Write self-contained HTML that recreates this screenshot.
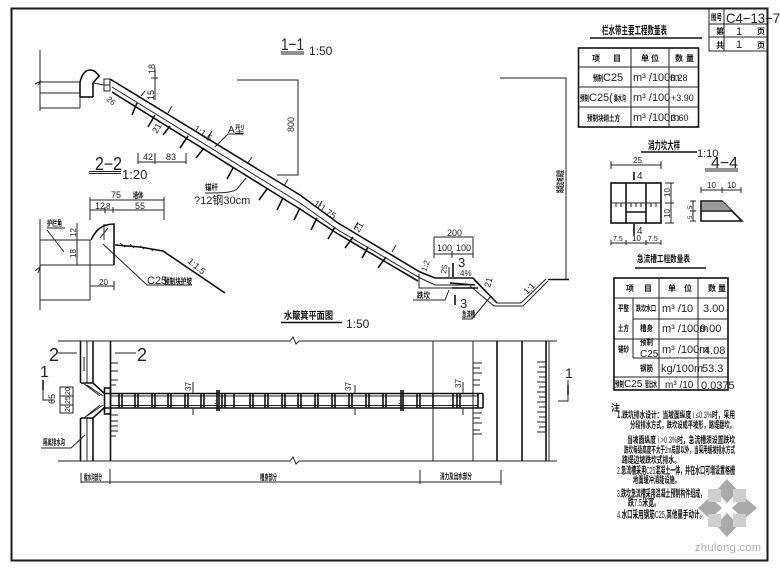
<!DOCTYPE html>
<html><head><meta charset="utf-8"><style>
html,body{margin:0;padding:0;background:#fff}
svg{display:block;filter:blur(.35px)}
text{font-family:"Liberation Sans","Noto Sans CJK SC",sans-serif;fill:#222}
.c{font-family:"Noto Sans CJK SC","Liberation Sans",sans-serif;font-weight:700;fill:#111}
.l{fill:none;stroke:#222;stroke-width:1}
.t{fill:none;stroke:#111;stroke-width:1.6}
</style></head><body>
<svg width="780" height="571" viewBox="0 0 780 571" font-size="8" xmlns="http://www.w3.org/2000/svg">
<rect width="780" height="571" fill="#fff"/>
<rect x="11.5" y="8.5" width="756" height="552" fill="none" stroke="#1a1a1a" stroke-width="2"/>

<!-- 1-1 title -->
<text x="281" y="50" font-size="17" textLength="23" lengthAdjust="spacingAndGlyphs">1−1</text>
<path class="l" d="M281 52H304M281 54H304"/>
<text x="309" y="55" font-size="12">1:50</text>

<!-- 1-1 profile -->
<path class="l" d="M40 50V111M40 82H80M40 93H80M40 108H80M35 84L41 81L38 85"/>
<path class="t" stroke-width="1.3" d="M80 97V82C82 74 85 70 90 70C94 70 96 72 99 76L93 83V97"/>
<path class="l" d="M80 108V97M93 83L104 85"/>
<rect class="l" x="104" y="79" width="6" height="12"/><path class="l" d="M104 85H110"/>
<path class="t" d="M80 97H93"/>
<path class="t" stroke-width="1.5" d="M110 79L300 195L338 223L420 272L435 278H473L497 303"/>
<path class="l" d="M112 87L300 203L338 230L420 278L435 285H473"/>
<path class="t" stroke-width="1.2" d="M112 92L300 209L338 234L418 281"/>
<path class="l" d="M474 280L497 303H521L546 279M470 286L494 306H523L548 281M419 274V288H470"/>
<path class="t" d="M548 279.5H569M450 283L475 285M452 288H478"/>
<path class="l" d="M141 96L145 91M168 113L172 106M208 138L212 131M248 163L252 157M284 186L288 179M318 208L322 201M354 229L358 222M392 252L396 245"/>
<path class="t" stroke-width="1.3" d="M137 103L132 115M155 115L148 127M170 126L163 135M188 136L180 148M204 148L196 158M233 168L227 179M267 189L259 200M283 198L277 210M300 208L294 220M317 218L311 230M335 227L328 239M353 237L345 248M368 247L362 258M386 257L378 268"/>

<!-- profile dimensions -->
<path class="l" d="M237 80H298V175H277M500 78H566V280M155 68V100M151 78H158M138 153V164M155 153V164M186 153V164M138 162H186M215 147L228 134H243M205 193C220 193 232 193 237 189L246 178M434 237V258M473 237V258M434 237H473M434 254H473M452 251V258M413 300H445L449 290M462 319H472L491 296"/>
<text x="155" y="74" font-size="9" transform="rotate(-90 155 74)">18</text>
<text x="154" y="100" font-size="9" transform="rotate(-90 154 100)">15</text>
<text x="106" y="100" font-size="8" transform="rotate(40 106 100)">26</text>
<text x="157" y="134" font-size="9" transform="rotate(-60 157 134)">21</text>
<text x="193" y="130" font-size="9" transform="rotate(35 193 130)">1:1.5</text>
<text x="228" y="133" font-size="10">A型</text>
<text x="143" y="160" font-size="9">42</text><text x="166" y="160" font-size="9">83</text>
<text class="c" x="205" y="190" textLength="13" lengthAdjust="spacingAndGlyphs">锚杆</text>
<text x="194" y="204" font-size="11">?12钢30cm</text>
<text x="294" y="132" font-size="9" transform="rotate(-90 294 132)">800</text>
<text x="313" y="205" font-size="9" transform="rotate(35 313 205)">1:1.75</text>
<text x="359" y="233" font-size="9" transform="rotate(-60 359 233)">21</text>
<text class="c" x="563" y="193" textLength="23" lengthAdjust="spacingAndGlyphs" transform="rotate(-90 563 193)">路堤边坡高度</text>
<text x="447" y="236" font-size="9">200</text>
<text x="437" y="251" font-size="9">100</text><text x="456" y="251" font-size="9">100</text>
<text x="458" y="267" font-size="13">3</text><path class="t" d="M453 263V277M455 295V305"/>
<text x="460" y="308" font-size="13">3</text>
<text x="426" y="272" font-size="8" transform="rotate(-70 426 272)">1:2</text>
<text x="446" y="274" font-size="8" transform="rotate(-80 446 274)">25</text>
<path class="l" d="M449 267V277"/>
<text x="460" y="276" font-size="8">4%</text>
<text x="490" y="288" font-size="9" transform="rotate(-75 490 288)">21</text>
<text x="527" y="295" font-size="9" transform="rotate(-45 527 295)">1:1</text>
<text class="c" x="417" y="298" textLength="13" lengthAdjust="spacingAndGlyphs">跌坎</text>
<text class="c" x="462" y="317" textLength="13" lengthAdjust="spacingAndGlyphs">急流槽</text>

<!-- 2-2 -->
<text x="95" y="170" font-size="18" textLength="27" lengthAdjust="spacingAndGlyphs">2−2</text>
<path class="l" d="M89 171.5H121M89 173.5H121"/>
<text x="122" y="179" font-size="13">1:20</text>
<path class="l" d="M40 219V310M35 271L40 267L38 273M40 240H90M40 265H114M90 240V300H40M104 224V240M90 197V220M164 197V220M90 200H164M90 210H164M105 207V213M113 207V213M77 223V265M73 240H80M90 286H114V283M114 281V290M47 230L64 252M47 228H65M103 244L147 285H192M100 238L108 228"/>
<path class="t" stroke-width="1.4" d="M114 265V224C100 224 95 232 91 240"/>
<path class="t" stroke-width="1.3" d="M115 245L140 247L163 251L225 293"/>
<path class="l" d="M120 243L125 247M130 244L134 248M140 246L144 249M150 248L153 251"/>
<text x="111" y="198" font-size="9">75</text>
<text class="c" x="133" y="198" textLength="10" lengthAdjust="spacingAndGlyphs">墙体</text>
<text x="95" y="209" font-size="9">12</text><text x="106" y="209" font-size="8">8</text><text x="135" y="209" font-size="9">55</text>
<text x="76" y="237" font-size="8" transform="rotate(-90 76 237)">12</text>
<text x="76" y="258" font-size="8" transform="rotate(-90 76 258)">18</text>
<text x="99" y="285" font-size="8">20</text>
<text class="c" x="47" y="226" textLength="15" lengthAdjust="spacingAndGlyphs">护栏角</text>
<text x="147" y="284" font-size="11">C25</text><text class="c" x="164" y="284" textLength="28" lengthAdjust="spacingAndGlyphs">预制块护坡</text>
<text x="187" y="262" font-size="9" transform="rotate(40 187 262)">1:1.5</text>

<!-- title block -->
<rect class="l" x="709" y="9" width="59" height="42"/>
<path class="l" d="M709 24H768M709 37H768M724 9V51"/>
<text class="c" x="711" y="20" font-size="8" textLength="11" lengthAdjust="spacingAndGlyphs">图号</text>
<text x="726" y="23" font-size="14" fill="#444" textLength="54" lengthAdjust="spacingAndGlyphs">C4−13−7</text>
<text class="c" x="716" y="34">第</text><text x="736" y="35" font-size="11">1</text><text class="c" x="757" y="34">页</text>
<text class="c" x="716" y="48">共</text><text x="736" y="48" font-size="11">1</text><text class="c" x="757" y="48">页</text>

<!-- table 1 -->
<text class="c" x="602" y="34" font-size="11" textLength="65" lengthAdjust="spacingAndGlyphs">栏水带主要工程数量表</text>
<path class="t" stroke-width="2" d="M590 38H702"/>
<rect class="t" x="578.5" y="48" width="120" height="79"/>
<path class="l" d="M578 67H698M578 87H698M578 107H698M631 48V127M669 48V127"/>
<text class="c" x="592" y="61">项</text><text class="c" x="613" y="61">目</text>
<text class="c" x="641" y="61">单</text><text class="c" x="651" y="61">位</text>
<text class="c" x="675" y="61">数</text><text class="c" x="686" y="61">量</text>
<text class="c" x="593" y="81" textLength="10" lengthAdjust="spacingAndGlyphs">预制</text><text x="603" y="81" font-size="11">C25</text>
<text class="c" x="580" y="101" textLength="9" lengthAdjust="spacingAndGlyphs">预制</text><text x="589" y="101" font-size="11">C25(</text><text class="c" x="614" y="101" textLength="12" lengthAdjust="spacingAndGlyphs">集水沟</text>
<text class="c" x="587" y="121" textLength="33" lengthAdjust="spacingAndGlyphs">预制块砌土方</text>
<g font-size="11"><text x="633" y="81">m³ /100m</text><text x="633" y="101">m³ /100</text><text x="633" y="121">m³ /100m</text></g>
<text x="670" y="81" font-size="9">5.28</text><text x="671" y="101" font-size="9">+3.90</text><text x="671" y="121" font-size="9">3.60</text>

<!-- detail -->
<text class="c" x="648" y="149" font-size="11" textLength="32" lengthAdjust="spacingAndGlyphs">消力坎大样</text>
<path class="t" d="M641 152H697"/>
<text x="697" y="157" font-size="11">1:10</text>
<text x="711" y="168" font-size="16" fill="#444" textLength="27" lengthAdjust="spacingAndGlyphs">4−4</text>
<path class="l" d="M705 169H738M705 171H738"/>
<path class="l" d="M611 161V169M661 161V169M611 165H661"/>
<text x="633" y="163" font-size="8">25</text>
<rect class="t" x="611" y="183" width="50" height="40"/>
<path class="t" d="M626 183V223M646 183V223M626 212H646"/>
<path class="l" d="M611 203H661M616 203V207M621 203V207M631 203V207M636 203V207M641 203V207M651 203V207M656 203V207"/>
<path class="t" d="M634 172V180M634 224V235"/>
<text x="637" y="179" font-size="10">4</text><text x="637" y="234" font-size="10">4</text>
<path class="l" d="M671 183V223M665 183H674M665 203H674M665 223H674"/>
<text x="670" y="197" font-size="8" transform="rotate(-90 670 197)">10</text>
<text x="670" y="218" font-size="8" transform="rotate(-90 670 218)">10</text>
<path class="l" d="M611 240V245M626 240V245M646 240V245M661 240V245M611 243H661"/>
<text x="613" y="241" font-size="7">7.5</text><text x="632" y="241" font-size="8">10</text><text x="648" y="241" font-size="7">7.5</text>
<path class="t" d="M701 201H722L742 221H701ZM701 211H732"/>
<path d="M702 202h21l8 8h-29z" fill="#999"/>
<path class="l" d="M701 187V193M722 187V193M741 187V193M701 190H741M693 201V221M690 201H696M690 211H696M690 221H696"/>
<text x="707" y="188" font-size="8">10</text><text x="727" y="188" font-size="8">10</text>
<text x="692" y="209" font-size="6" transform="rotate(-90 692 209)">5</text>
<text x="692" y="219" font-size="6" transform="rotate(-90 692 219)">5</text>

<!-- table 2 -->
<text class="c" x="637" y="262" font-size="9" textLength="53" lengthAdjust="spacingAndGlyphs">急流槽工程数量表</text>
<path class="t" d="M635 268H706"/>
<rect class="t" x="614" y="278" width="114" height="112"/>
<path class="l" d="M614 298H728M633 319H728M614 339H728M633 358H728M614 377H728M633 298V358M659 278V390M698 278V390"/>
<text class="c" x="626" y="291">项</text><text class="c" x="644" y="291">目</text>
<text class="c" x="668" y="291">单</text><text class="c" x="684" y="291">位</text>
<text class="c" x="708" y="291">数</text><text class="c" x="718" y="291">量</text>
<text class="c" x="618" y="311" textLength="11" lengthAdjust="spacingAndGlyphs">平整</text><text class="c" x="618" y="331" textLength="11" lengthAdjust="spacingAndGlyphs">土方</text><text class="c" x="618" y="352" textLength="11" lengthAdjust="spacingAndGlyphs">铺砂</text>
<text class="c" x="636" y="311" textLength="20" lengthAdjust="spacingAndGlyphs">跌坎水口</text><text class="c" x="640" y="331" textLength="13" lengthAdjust="spacingAndGlyphs">槽身</text>
<text class="c" x="640" y="345" textLength="13" lengthAdjust="spacingAndGlyphs">预制</text><text x="640" y="357" font-size="10">C25</text><text class="c" x="640" y="371" textLength="13" lengthAdjust="spacingAndGlyphs">钢筋</text>
<g font-size="11"><text x="662" y="312">m³ /10</text><text x="662" y="332">m³ /100m</text><text x="662" y="353">m³ /100m</text><text x="661" y="372">kg/100m</text></g>
<text x="665" y="388" font-size="10">m³ /10</text>
<g font-size="11"><text x="703" y="312">3.00</text><text x="700" y="332">9.00</text><text x="704" y="354">4.08</text><text x="702" y="372">53.3</text><text x="701" y="389">0.0375</text></g>
<text class="c" x="615" y="387" textLength="9" lengthAdjust="spacingAndGlyphs">预制</text><text x="624" y="387" font-size="10">C25</text><text class="c" x="645" y="387" textLength="12" lengthAdjust="spacingAndGlyphs">管出水</text>

<!-- notes -->
<text class="c" x="611" y="411" font-size="9">注</text>
<text x="617" y="418" font-size="9" textLength="118" lengthAdjust="spacingAndGlyphs"><tspan class="c">1.跌坑排水设计：当坡面纵度</tspan> i ≤0.3%<tspan class="c">时，采用</tspan></text>
<text class="c" x="630" y="428" font-size="9" textLength="105" lengthAdjust="spacingAndGlyphs">分段排水方式，跌坎设成平坡形，路堤翻坎。</text>
<text x="627" y="443" font-size="9" textLength="108" lengthAdjust="spacingAndGlyphs"><tspan class="c">当坡面纵度</tspan> i &gt;0.3%<tspan class="c">时，急流槽须设置跌坎</tspan></text>
<text x="624" y="453" font-size="9" textLength="111" lengthAdjust="spacingAndGlyphs"><tspan class="c">跌坎每级高度不大于</tspan>2m<tspan class="c">局部以外，当采用缓坡排水方式</tspan></text>
<text class="c" x="622" y="463" font-size="9" textLength="58" lengthAdjust="spacingAndGlyphs">路堤边坡跌坎式排水。</text>
<text x="617" y="474" font-size="10" textLength="118" lengthAdjust="spacingAndGlyphs">2.<tspan class="c">急流槽采用</tspan>C25<tspan class="c">混凝土一体，并在水口可增设置格栅</tspan></text>
<text class="c" x="633" y="483" font-size="9" textLength="47" lengthAdjust="spacingAndGlyphs">地面缓冲消能设施。</text>
<text x="617" y="497" font-size="10" textLength="88" lengthAdjust="spacingAndGlyphs">3.<tspan class="c">跌坎急流槽采用混凝土预制构件组成，</tspan></text>
<text x="628" y="506" font-size="10" textLength="32" lengthAdjust="spacingAndGlyphs"><tspan class="c">跌</tspan>7.5<tspan class="c">米宽。</tspan></text>
<text x="617" y="518" font-size="10" textLength="88" lengthAdjust="spacingAndGlyphs">4.<tspan class="c">水口采用钢筋</tspan>C25,<tspan class="c">其他量手动计。</tspan></text>

<!-- plan title -->
<text class="c" x="284" y="319" font-size="10" textLength="49" lengthAdjust="spacingAndGlyphs">水簸箕平面图</text>
<path class="t" d="M281 322.5H342"/>
<text x="346" y="328" font-size="12">1:50</text>

<!-- plan boundaries -->
<path class="l" d="M58 341H290L293 337L296 344L299 341H557M58 461H290L293 457L296 464L299 461H557"/>
<path class="t" d="M80.5 341V383M80.5 418V461M93 341V383M93 418V461M110.5 341V461M497 341V461M522 341V461M546 341V461"/>
<path class="l" d="M87 341V383M87 418V461M433 341V461M473 341V461M549 341V461"/>
<path class="l" d="M84 357V371"/>
<!-- flare -->
<path class="t" d="M81 383H93L105 394M81 418H93L105 407"/>
<path class="l" d="M83 383L100 396M84 418L100 405M87 385L103 396M87 416L103 405"/>
<path class="l" d="M60 387H73V413H60ZM60 396H73M60 405H73"/>
<text x="70" y="395" font-size="7" transform="rotate(-90 70 395)">20</text>
<text x="70" y="404" font-size="7" transform="rotate(-90 70 404)">25</text>
<text x="70" y="412" font-size="7" transform="rotate(-90 70 412)">20</text>
<text x="55" y="404" font-size="9" transform="rotate(-90 55 404)">65</text>
<!-- channel -->
<rect class="t" x="104.5" y="388" width="6" height="26"/>
<path class="t" d="M104 393.5H483M104 408H483M483 393.5V408M478 393.5V408"/>
<path class="l" d="M110 396H478M110 405.5H478"/>
<path class="t" stroke-width="1.2" d="M119 394V408M122 394V408M135 394V408M138 394V408M152 394V408M155 394V408M168 394V408M171 394V408M185 394V408M188 394V408M201 394V408M204 394V408M222 394V408M225 394V408M234 394V408M250 394V408M253 394V408M265 394V408M268 394V408M282 394V408M285 394V408M298 394V408M301 394V408M315 394V408M318 394V408M332 394V408M335 394V408M349 394V408M352 394V408M366 394V408M369 394V408M383 394V408M386 394V408M417 394V408M420 394V408M433 394V408M453 394V408M457 394V408M460 394V408"/>
<path class="t" d="M217 390V411M219 390V411M401 390V411M403 390V411"/>
<text x="215" y="404" font-size="6">2</text><text x="399" y="404" font-size="6">2</text>
<!-- ticks -->
<path class="l" d="M110 363H118M110 371H118M110 380H118M110 385H116M110 415H118M110 421H118M110 426H118M110 431H118M110 436H116M473 363H482M473 368H480M473 373H482M473 380H480M473 385H480M473 413H482M473 418H480M473 423H482M473 430H480M473 434H482M537 362H546M539 367H546M537 372H546M539 377H546M537 382H546M539 387H546M537 392H546M539 397H546M537 402H546M539 407H546M537 412H546M539 417H546M537 422H546M539 427H546M537 432H546"/>
<!-- section labels -->
<text x="49" y="361" font-size="18">2</text><path class="l" d="M58 353H77M115 353H136"/>
<text x="137" y="361" font-size="18">2</text>
<text x="40" y="377" font-size="16">1</text><path class="t" d="M43 380V390"/><path class="l" d="M43 380V400H53"/>
<text x="565" y="378" font-size="14">1</text><path class="t" d="M568 385V395"/><path class="l" d="M568 380V401H558"/>
<text x="191" y="391" font-size="8" transform="rotate(-90 191 391)">37</text>
<path class="l" d="M193 382V393M193 408V415M355 385V393M355 408V415M463 382V393M463 408V415"/>
<text x="351" y="391" font-size="8" transform="rotate(-90 351 391)">37</text>
<text x="461" y="388" font-size="8" transform="rotate(-90 461 388)">37</text>
<text class="c" x="43" y="445" textLength="22" lengthAdjust="spacingAndGlyphs">隔离排水沟</text>
<path class="l" d="M41 448H71L85 435"/>
<!-- bottom dims -->
<path class="l" d="M81 473V483M110 469V484M420 470V484M501 470V485M81 482H501"/>
<text class="c" x="84" y="480" textLength="18" lengthAdjust="spacingAndGlyphs">截水沟部分</text>
<text class="c" x="260" y="480" textLength="17" lengthAdjust="spacingAndGlyphs">槽身部分</text>
<text class="c" x="440" y="479" textLength="32" lengthAdjust="spacingAndGlyphs">消力及出水部分</text>

<!-- watermark -->
<g fill="#a9a9a9">
<path d="M727 479L738 491L727 503L716 491Z"/>
<path d="M727 513L738 525L727 537L716 525Z"/>
<path d="M698 508L710 497L722 508L710 519Z"/>
<path d="M732 508L744 497L757 508L744 519Z"/>
</g>
<g fill="#cfcfcf">
<rect x="708" y="489" width="13" height="13"/><rect x="733" y="489" width="13" height="13"/>
<rect x="708" y="514" width="13" height="13"/><rect x="733" y="514" width="13" height="13"/>
</g>
<text x="695" y="551" font-size="11" style="fill:#aaa" textLength="66">zhulong.com</text>
</svg>
</body></html>
